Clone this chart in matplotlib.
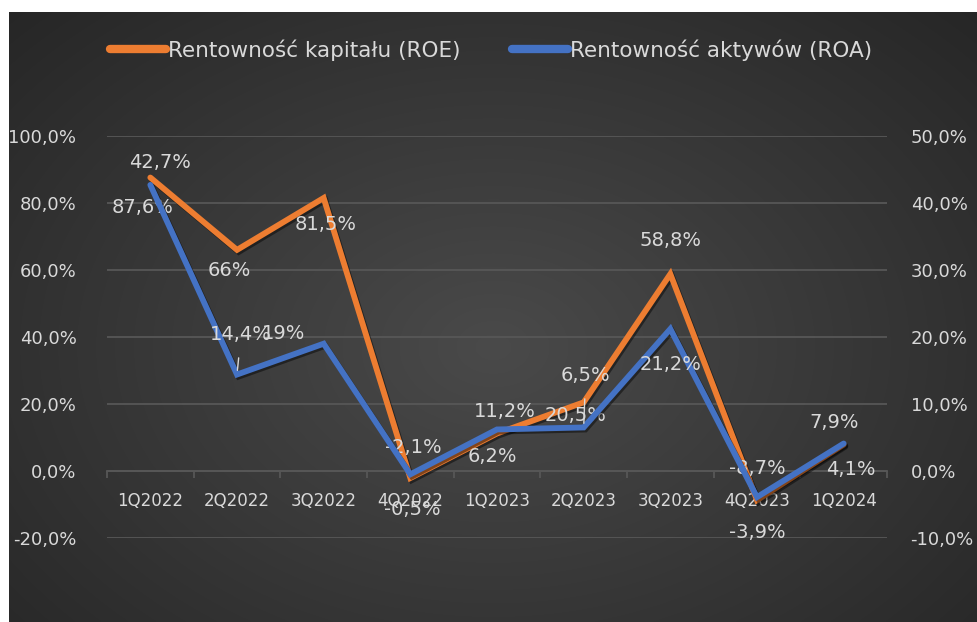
import numpy as np
import matplotlib
matplotlib.use("Agg")
import matplotlib.pyplot as plt
import matplotlib.patheffects as pe
from matplotlib.lines import Line2D

quarters = ["1Q2022", "2Q2022", "3Q2022", "4Q2022", "1Q2023",
            "2Q2023", "3Q2023", "4Q2023", "1Q2024"]
roe = [87.6, 66.0, 81.5, -2.1, 11.2, 20.5, 58.8, -8.7, 7.9]
roa = [42.7, 14.4, 19.0, -0.5, 6.2, 6.5, 21.2, -3.9, 4.1]
roe_labels = ["87,6%", "66%", "81,5%", "-2,1%", "11,2%", "20,5%", "58,8%", "-8,7%", "7,9%"]
roa_labels = ["42,7%", "14,4%", "19%", "-0,5%", "6,2%", "6,5%", "21,2%", "-3,9%", "4,1%"]

# label offsets in pixels (dx right, dy down), as placed in the original
roe_off = [(-8, 30), (-8, 21), (2, 27), (3, -31), (8, -22), (-8, 13), (0, -34), (0, -32), (-10, -22)]
roa_off = [(10, -22), (4, -40), (-40, -10), (2, 35), (-5, 27), (2, -52), (0, 36), (0, 35), (7, 26)]
roa_leader = [False, True, False, False, False, True, False, False, False]

ORANGE = "#ED7D31"
BLUE = "#4472C4"
TXT = "#D9D9D9"
GRID = "#575757"

W, H = 978, 622
fig = plt.figure(figsize=(W / 100, H / 100), dpi=100, facecolor="white")

# radial gradient background
bg = fig.add_axes([9 / W, 0, 1 - 9 / W, 610 / H], zorder=-5)
yy, xx = np.mgrid[0:1:300j, 0:1:500j]
r = np.sqrt(((xx - 0.5) / 0.75) ** 2 + ((yy - 0.55) / 0.85) ** 2)
shade = 0.29 - 0.15 * np.clip(r, 0, 1)
bg.imshow(np.dstack([shade] * 3), aspect="auto", extent=[0, 1, 0, 1], interpolation="bilinear")
bg.axis("off")

ax = fig.add_axes([107 / W, 1 - 538 / H, (887 - 107) / W, (538 - 136) / H])
ax.patch.set_alpha(0)
ax2 = ax.twinx()
ax2.patch.set_alpha(0)

x = np.arange(len(quarters))
shadow = [pe.SimpleLineShadow(offset=(1.2, -1.5), shadow_color="black", alpha=0.45), pe.Normal()]
ax.plot(x, roe, color=ORANGE, lw=4.2, solid_joinstyle="miter", solid_capstyle="round",
        path_effects=shadow, zorder=3)
ax2.plot(x, roa, color=BLUE, lw=4.2, solid_joinstyle="miter", solid_capstyle="round",
         path_effects=shadow, zorder=3)

ax.set_ylim(-20, 100)
ax2.set_ylim(-10, 50)
ax.set_xlim(-0.5, len(quarters) - 0.5)
ax.set_yticks(np.arange(-20, 101, 20))
ax2.set_yticks(np.arange(-10, 51, 10))
ax.set_yticklabels([f"{v:.1f}%".replace(".", ",") for v in np.arange(-20, 101, 20)])
ax2.set_yticklabels([f"{v:.1f}%".replace(".", ",") for v in np.arange(-10, 51, 10)])
ax.grid(axis="y", color=GRID, lw=1.3, zorder=0)
ax.set_axisbelow(True)

for a in (ax, ax2):
    for s in a.spines.values():
        s.set_visible(False)
ax.spines["bottom"].set_visible(True)
ax.spines["bottom"].set_position(("data", 0))
ax.spines["bottom"].set_color(GRID)
ax.spines["bottom"].set_linewidth(1.3)

ax.set_xticks(x)
ax.set_xticklabels(quarters)
ax.set_xticks(np.arange(-0.5, len(quarters)), minor=True)
ax.tick_params(axis="x", which="major", length=0, pad=15, labelsize=12, labelcolor=TXT)
ax.tick_params(axis="x", which="minor", length=5, width=1.3, color=GRID, direction="out")
ax.tick_params(axis="y", length=0, pad=22, labelsize=13, labelcolor=TXT)
ax2.tick_params(axis="y", length=0, pad=17, labelsize=13, labelcolor=TXT)

for i in range(len(quarters)):
    dx, dy = roe_off[i]
    ax.annotate(roe_labels[i], (x[i], roe[i]), xytext=(dx * 0.72, -dy * 0.72),
                textcoords="offset points", ha="center", va="center",
                fontsize=14, color=TXT, zorder=5, annotation_clip=False)
    dx, dy = roa_off[i]
    arrow = dict(arrowstyle="-", color=TXT, lw=1, shrinkA=8, shrinkB=3) if roa_leader[i] else None
    ax2.annotate(roa_labels[i], (x[i], roa[i]), xytext=(dx * 0.72, -dy * 0.72),
                 textcoords="offset points", ha="center", va="center",
                 fontsize=14, color=TXT, zorder=5, annotation_clip=False,
                 arrowprops=arrow)

handles = [Line2D([], [], color=ORANGE, lw=6, solid_capstyle="round"),
           Line2D([], [], color=BLUE, lw=6, solid_capstyle="round")]
fig.legend(handles, ["Rentowność kapitału (ROE)", "Rentowność aktywów (ROA)"],
           loc="center", bbox_to_anchor=(0.502, 1 - 50 / H), ncol=2, frameon=False,
           fontsize=15.5, labelcolor=TXT, handlelength=2.6, handletextpad=0.1,
           columnspacing=2.4)

fig.savefig("out.png", dpi=100, facecolor="white")
